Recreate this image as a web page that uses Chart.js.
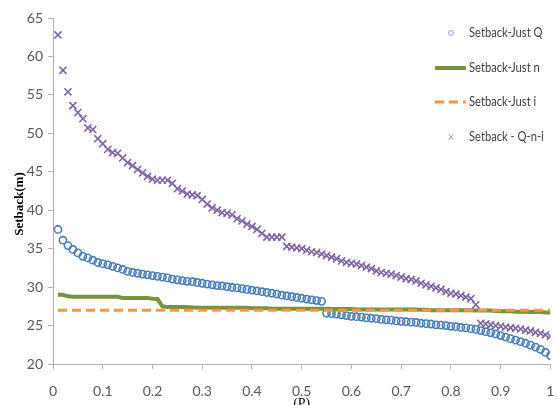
<!DOCTYPE html>
<html>
<head>
<meta charset="utf-8">
<title>Setback vs P</title>
<script src="https://cdn.jsdelivr.net/npm/chart.js@4.4.1/dist/chart.umd.min.js"></script>
<style>
  html, body { margin: 0; padding: 0; background: #ffffff; }
  #wrap { width: 557px; height: 405px; }
</style>
</head>
<body>
<div id="wrap"><canvas id="chart" width="557" height="405"></canvas></div>
<script>
// Probability values along the horizontal axis
const pValues = [
  0.01, 0.02, 0.03, 0.04, 0.05, 0.06, 0.07, 0.08, 0.09, 0.10,
  0.11, 0.12, 0.13, 0.14, 0.15, 0.16, 0.17, 0.18, 0.19, 0.20,
  0.21, 0.22, 0.23, 0.24, 0.25, 0.26, 0.27, 0.28, 0.29, 0.30,
  0.31, 0.32, 0.33, 0.34, 0.35, 0.36, 0.37, 0.38, 0.39, 0.40,
  0.41, 0.42, 0.43, 0.44, 0.45, 0.46, 0.47, 0.48, 0.49, 0.50,
  0.51, 0.52, 0.53, 0.54, 0.55, 0.56, 0.57, 0.58, 0.59, 0.60,
  0.61, 0.62, 0.63, 0.64, 0.65, 0.66, 0.67, 0.68, 0.69, 0.70,
  0.71, 0.72, 0.73, 0.74, 0.75, 0.76, 0.77, 0.78, 0.79, 0.80,
  0.81, 0.82, 0.83, 0.84, 0.85, 0.86, 0.87, 0.88, 0.89, 0.90,
  0.91, 0.92, 0.93, 0.94, 0.95, 0.96, 0.97, 0.98, 0.99, 1.00
];

// Setback (m) considering only the discharge Q
const setbackJustQ = [
  37.5, 36.1, 35.4, 34.9, 34.45, 34.0, 33.8, 33.5, 33.2, 33.05,
  32.9, 32.7, 32.5, 32.3, 32.05, 31.9, 31.8, 31.7, 31.6, 31.5,
  31.4, 31.3, 31.2, 31.05, 30.95, 30.85, 30.75, 30.7, 30.6, 30.5,
  30.4, 30.3, 30.2, 30.15, 30.05, 29.95, 29.9, 29.8, 29.7, 29.6,
  29.5, 29.4, 29.3, 29.2, 29.1, 28.95, 28.85, 28.75, 28.65, 28.55,
  28.45, 28.35, 28.25, 28.15, 26.6, 26.55, 26.5, 26.4, 26.3, 26.2,
  26.15, 26.1, 26.0, 25.95, 25.9, 25.8, 25.75, 25.7, 25.6, 25.55,
  25.5, 25.45, 25.4, 25.3, 25.25, 25.2, 25.1, 25.05, 25.0, 24.9,
  24.85, 24.75, 24.7, 24.6, 24.5, 24.35, 24.2, 24.05, 23.9, 23.7,
  23.5, 23.3, 23.1, 22.9, 22.7, 22.45, 22.2, 21.9, 21.5, 21.1
];

// Setback (m) considering only the roughness n
const setbackJustN = [
  29.0, 29.0, 28.8, 28.75, 28.75, 28.75, 28.75, 28.75, 28.75, 28.75,
  28.75, 28.75, 28.75, 28.6, 28.6, 28.6, 28.6, 28.6, 28.6, 28.5,
  28.45, 27.5, 27.4, 27.4, 27.4, 27.4, 27.4, 27.35, 27.35, 27.3,
  27.3, 27.3, 27.3, 27.3, 27.3, 27.3, 27.3, 27.3, 27.3, 27.25,
  27.25, 27.25, 27.25, 27.2, 27.2, 27.2, 27.2, 27.2, 27.2, 27.2,
  27.2, 27.2, 27.2, 27.2, 27.2, 27.15, 27.15, 27.15, 27.15, 27.15,
  27.1, 27.1, 27.1, 27.1, 27.1, 27.1, 27.1, 27.1, 27.1, 27.1,
  27.1, 27.1, 27.1, 27.05, 27.05, 27.0, 27.0, 27.0, 27.0, 27.0,
  27.0, 27.0, 27.0, 27.0, 26.95, 26.95, 26.95, 26.95, 26.9, 26.85,
  26.85, 26.85, 26.8, 26.8, 26.8, 26.75, 26.75, 26.75, 26.7, 26.7
];

// Setback (m) considering only the slope i
const setbackJustI = [
  27.0, 27.0, 27.0, 27.0, 27.0, 27.0, 27.0, 27.0, 27.0, 27.0,
  27.0, 27.0, 27.0, 27.0, 27.0, 27.0, 27.0, 27.0, 27.0, 27.0,
  27.0, 27.0, 27.0, 27.0, 27.0, 27.0, 27.0, 27.0, 27.0, 27.0,
  27.0, 27.0, 27.0, 27.0, 27.0, 27.0, 27.0, 27.0, 27.0, 27.0,
  27.0, 27.0, 27.0, 27.0, 27.0, 27.0, 27.0, 27.0, 27.0, 27.0,
  27.0, 27.0, 27.0, 27.0, 27.0, 27.0, 27.0, 27.0, 27.0, 27.0,
  27.0, 27.0, 27.0, 27.0, 27.0, 27.0, 27.0, 27.0, 27.0, 27.0,
  27.0, 27.0, 27.0, 27.0, 27.0, 27.0, 27.0, 27.0, 27.0, 27.0,
  27.0, 27.0, 27.0, 27.0, 27.0, 27.0, 27.0, 27.0, 27.0, 27.0,
  27.0, 27.0, 27.0, 27.0, 27.0, 27.0, 27.0, 27.0, 27.0, 27.0
];

// Setback (m) with Q, n and i combined
const setbackQNI = [
  62.8, 58.2, 55.4, 53.6, 52.7, 51.9, 50.7, 50.5, 49.3, 48.65,
  47.9, 47.5, 47.4, 46.8, 46.2, 45.8, 45.3, 44.85, 44.4, 44.05,
  43.9, 43.9, 43.9, 43.5, 42.8, 42.5, 42.1, 42.0, 41.9, 41.4,
  40.8, 40.3, 40.0, 39.7, 39.6, 39.4, 38.9, 38.6, 38.2, 37.9,
  37.5, 37.0, 36.5, 36.5, 36.5, 36.5, 35.3, 35.2, 35.1, 35.0,
  34.8, 34.6, 34.5, 34.3, 34.1, 33.9, 33.7, 33.4, 33.2, 33.1,
  33.0, 32.8, 32.6, 32.4, 32.1, 31.9, 31.8, 31.7, 31.5, 31.3,
  31.1, 31.0, 30.8, 30.5, 30.3, 30.1, 29.9, 29.7, 29.4, 29.2,
  29.1, 28.9, 28.7, 28.5, 27.7, 25.3, 25.2, 25.1, 25.0, 24.9,
  24.8, 24.7, 24.65, 24.55, 24.4, 24.3, 24.1, 24.0, 23.8, 23.6
];

// Axis tick labels
const xTickLabels = ['0', '0.1', '0.2', '0.3', '0.4', '0.5', '0.6', '0.7', '0.8', '0.9', '1'];
const yTickLabels = ['20', '25', '30', '35', '40', '45', '50', '55', '60', '65'];

const seriesNames = ['Setback-Just Q', 'Setback-Just n', 'Setback-Just i', 'Setback - Q-n-i'];

const toPoints = (ys) => pValues.map((p, i) => ({ x: p, y: ys[i] }));

const SANS = 'Lato, "Liberation Sans Narrow", sans-serif';
const TICK_FONT = { family: SANS, size: 14 };
const TICK_COLOR = '#595959';
const AXIS_COLOR = '#b3b3b3';

// Axis titles and the legend block inside the plot
const decorations = {
  id: 'decorations',
  afterDraw(chart) {
    const ctx = chart.ctx;
    ctx.save();
    // Vertical axis title
    ctx.translate(20, 204);
    ctx.rotate(-Math.PI / 2);
    ctx.font = 'bold 13px "Liberation Serif", "Times New Roman", serif';
    ctx.fillStyle = '#000000';
    ctx.textAlign = 'center';
    ctx.textBaseline = 'middle';
    ctx.fillText('Setback(m)', 0, 0);
    ctx.restore();

    // Horizontal axis title
    ctx.save();
    ctx.font = '14px "Liberation Serif", "Times New Roman", serif';
    ctx.fillStyle = '#000000';
    ctx.textAlign = 'center';
    ctx.textBaseline = 'top';
    ctx.fillText('(P)', (chart.chartArea.left + chart.chartArea.right) / 2, 397);
    ctx.restore();

    // Legend
    const rows = [33, 68, 102, 137];
    const textX = 469;
    const symX = 451;
    ctx.save();
    ctx.font = '13px ' + SANS;
    ctx.textBaseline = 'middle';
    ctx.textAlign = 'left';
    chart.data.datasets.forEach((ds, i) => {
      const y = rows[i];
      if (ds.showLine === false) {
        ctx.lineWidth = 1;
        ctx.strokeStyle = ds.legendColor;
        ctx.fillStyle = ds.pointStyle === 'circle' ? 'rgba(255,255,255,0)' : ds.legendColor;
        Chart.helpers.drawPoint(ctx, {
          pointStyle: ds.pointStyle,
          radius: ds.pointStyle === 'circle' ? 2.4 : 3.4,
          borderWidth: 1
        }, symX, y);
      } else {
        ctx.beginPath();
        ctx.strokeStyle = ds.borderColor;
        ctx.lineWidth = ds.borderWidth;
        ctx.setLineDash(ds.borderDash || []);
        ctx.moveTo(435, y);
        ctx.lineTo(466, y);
        ctx.stroke();
        ctx.setLineDash([]);
      }
      // Narrow lettering for the legend labels
      ctx.save();
      ctx.translate(textX, y);
      ctx.scale(0.86, 1.05);
      ctx.fillStyle = '#404040';
      ctx.fillText(ds.label, 0, 0);
      ctx.restore();
    });
    ctx.restore();
  }
};

new Chart(document.getElementById('chart'), {
  type: 'line',
  data: {
    datasets: [
      {
        label: seriesNames[0],
        data: toPoints(setbackJustQ),
        showLine: false,
        pointStyle: 'circle',
        pointRadius: 3.6,
        pointBorderWidth: 1.6,
        borderColor: '#4a7ebb',
        pointBorderColor: '#4a7ebb',
        pointBackgroundColor: 'rgba(255,255,255,0)',
        legendColor: '#7fa3d3',
        order: 4
      },
      {
        label: seriesNames[1],
        data: toPoints(setbackJustN),
        borderColor: '#77933c',
        borderWidth: 4,
        pointRadius: 0,
        tension: 0,
        order: 3
      },
      {
        label: seriesNames[2],
        data: toPoints(setbackJustI),
        borderColor: '#f79646',
        borderWidth: 3,
        borderDash: [9, 5],
        pointRadius: 0,
        tension: 0,
        order: 2
      },
      {
        label: seriesNames[3],
        data: toPoints(setbackQNI),
        showLine: false,
        pointStyle: 'crossRot',
        pointRadius: 5,
        pointBorderWidth: 1.6,
        borderColor: '#8064a2',
        pointBorderColor: '#8064a2',
        pointBackgroundColor: '#8064a2',
        legendColor: '#b3a2c7',
        order: 1
      }
    ]
  },
  options: {
    responsive: false,
    animation: false,
    events: [],
    layout: { padding: { top: 18, right: 5, left: 0, bottom: 0 } },
    plugins: {
      legend: { display: false },
      tooltip: { enabled: false }
    },
    scales: {
      x: {
        type: 'linear',
        min: 0,
        max: 1,
        afterFit: (s) => { s.height = 41; s.paddingLeft = 0; s.paddingRight = 0; },
        afterBuildTicks: (s) => {
          s.ticks = xTickLabels.map((t) => ({ value: parseFloat(t) }));
        },
        ticks: {
          font: TICK_FONT,
          color: TICK_COLOR,
          padding: 14,
          maxRotation: 0,
          autoSkip: false,
          callback: (v, i) => xTickLabels[i]
        },
        grid: { drawOnChartArea: false, drawTicks: true, tickLength: 5, color: AXIS_COLOR },
        border: { display: true, color: AXIS_COLOR, width: 1 }
      },
      y: {
        type: 'linear',
        min: 20,
        max: 65,
        afterFit: (s) => { s.width = 53; s.paddingTop = 0; s.paddingBottom = 0; },
        afterBuildTicks: (s) => {
          s.ticks = yTickLabels.map((t) => ({ value: parseFloat(t) }));
        },
        ticks: {
          font: TICK_FONT,
          color: TICK_COLOR,
          padding: 5,
          autoSkip: false,
          callback: (v, i) => yTickLabels[i]
        },
        grid: { drawOnChartArea: false, drawTicks: true, tickLength: 5, color: AXIS_COLOR },
        border: { display: true, color: AXIS_COLOR, width: 1 }
      }
    }
  },
  plugins: [decorations]
});
</script>
</body>
</html>
